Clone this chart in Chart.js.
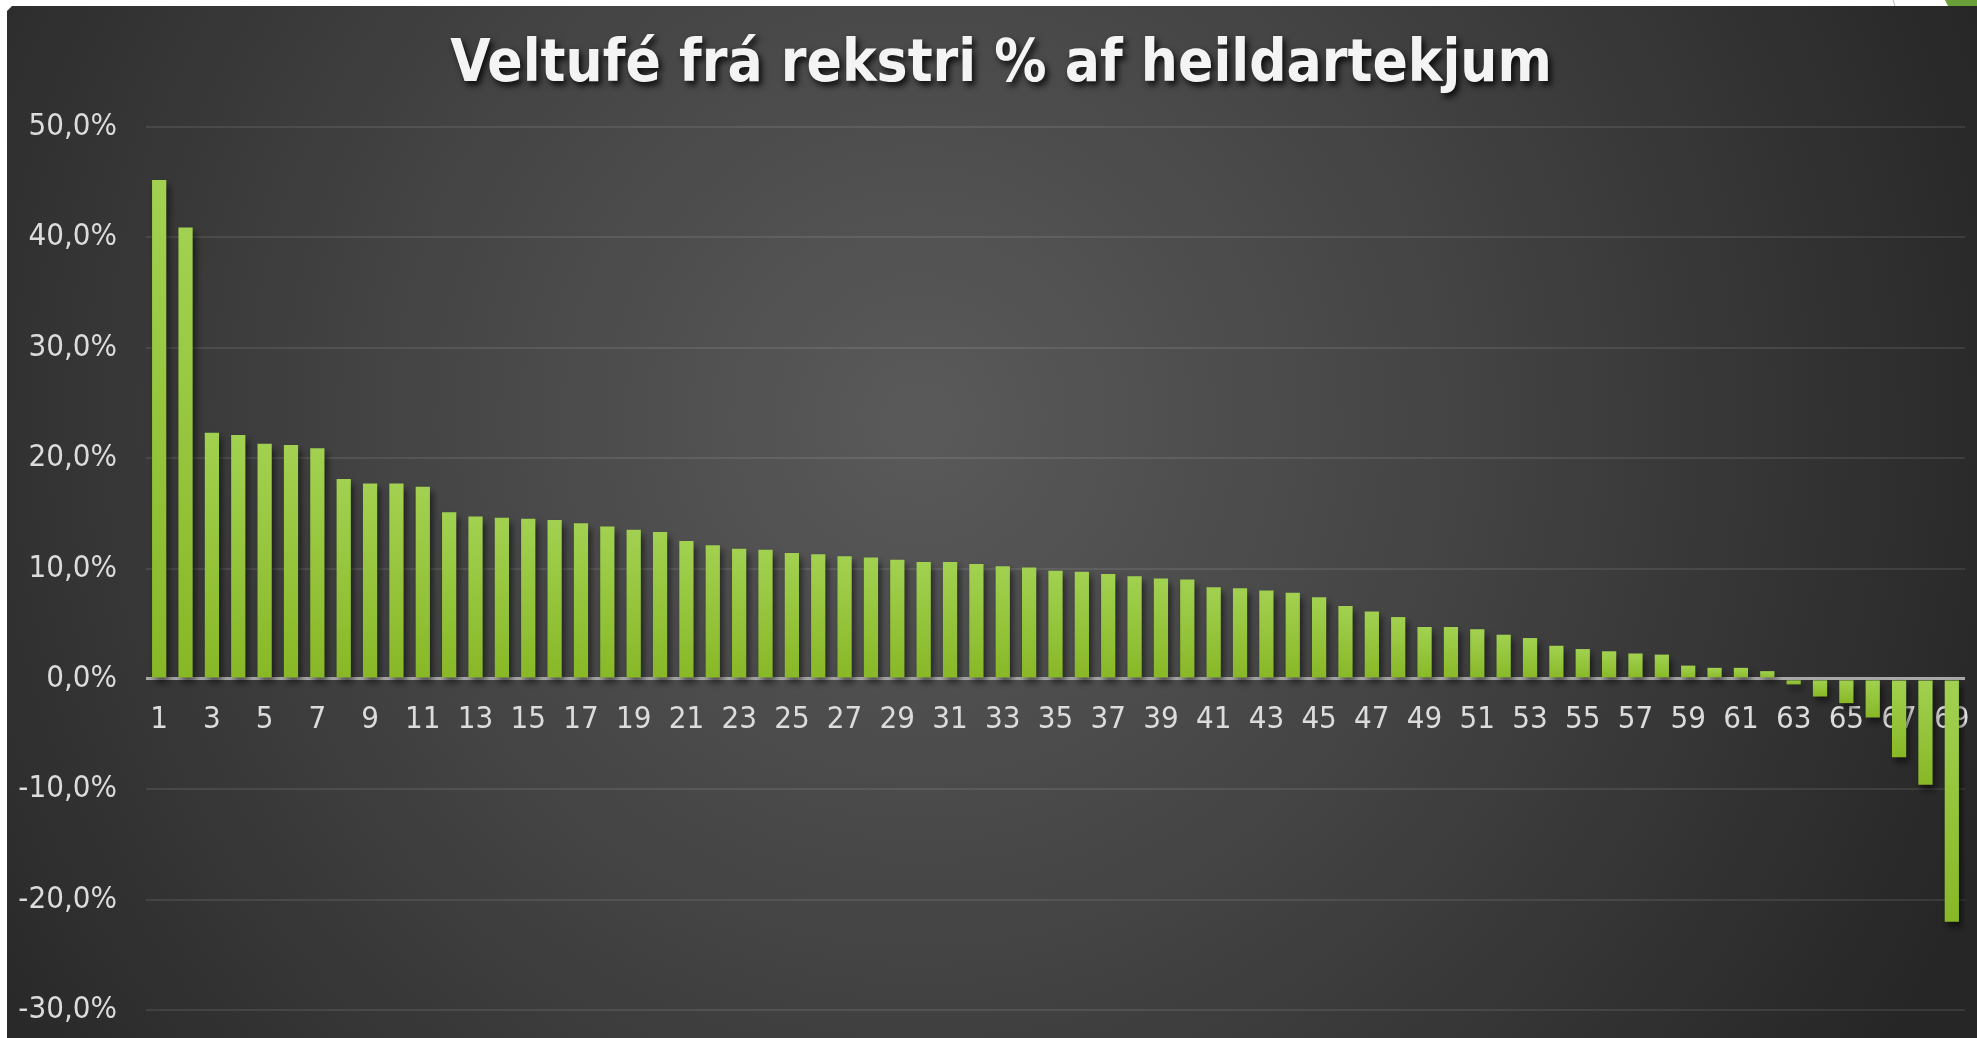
<!DOCTYPE html>
<html lang="is">
<head>
    <meta charset="UTF-8">
    <title>Veltufé frá rekstri % af heildartekjum</title>
    <script src="https://cdn.jsdelivr.net/npm/chart.js"></script>
    <style>
        html, body { margin: 0; padding: 0; background: #ffffff; overflow: hidden; }
        #graf { position: absolute; left: 0; top: 0; }
    </style>
</head>
<body>
    <canvas id="graf" width="1977" height="1038"></canvas>

<script>
    // sveitarfélög 1..69
    var flokkar = [];
    for (var n = 1; n <= 69; n++) flokkar.push(String(n));

    // veltufé frá rekstri í % af heildartekjum (lesið af myndinni)
    var veltufe = [
        45.2, 40.9, 22.3, 22.1, 21.3, 21.2, 20.9, 18.1, 17.7, 17.7,
        17.4, 15.1, 14.7, 14.6, 14.5, 14.4, 14.1, 13.8, 13.5, 13.3,
        12.5, 12.1, 11.8, 11.7, 11.4, 11.3, 11.1, 11.0, 10.8, 10.6,
        10.6, 10.4, 10.2, 10.1, 9.8, 9.7, 9.5, 9.3, 9.1, 9.0,
        8.3, 8.2, 8.0, 7.8, 7.4, 6.6, 6.1, 5.6, 4.7, 4.7,
        4.5, 4.0, 3.7, 3.0, 2.7, 2.5, 2.3, 2.2, 1.2, 1.0,
        1.0, 0.7, -0.5, -1.6, -2.2, -3.5, -7.1, -9.6, -22.0
    ];

    var asMin = -30;
    var asMax = 50;
    var asSkref = 10;

    var titill = 'Veltufé frá rekstri % af heildartekjum';
    var letur = '"DejaVu Sans Condensed", "DejaVu Sans", sans-serif';

    // dökkur bakgrunnur með ljósari miðju
    var bakgrunnur = {
        id: 'bakgrunnur',
        beforeDraw: function (chart) {
            var c = chart.ctx;
            c.save();
            c.fillStyle = '#ffffff';
            c.fillRect(0, 0, chart.width, chart.height);
            var g = c.createRadialGradient(920, 420, 20, 920, 420, 1150);
            g.addColorStop(0, '#595959');
            g.addColorStop(0.45, '#444444');
            g.addColorStop(1, '#262626');
            c.fillStyle = g;
            c.beginPath();
            c.moveTo(12, 6);
            c.lineTo(chart.width, 6);
            c.lineTo(chart.width, chart.height);
            c.lineTo(7, chart.height);
            c.lineTo(7, 11);
            c.closePath();
            c.fill();
            // smá grænt horn efst til hægri
            c.fillStyle = '#6aa03a';
            c.beginPath();
            c.moveTo(1945, 0);
            c.lineTo(1977, 0);
            c.lineTo(1977, 6);
            c.lineTo(1948, 6);
            c.closePath();
            c.fill();
            c.strokeStyle = '#bbbbbb';
            c.lineWidth = 1;
            c.beginPath();
            c.moveTo(1893, 0);
            c.lineTo(1895, 6);
            c.stroke();
            c.restore();
        },
        afterDraw: function (chart) {
            var c = chart.ctx;
            c.save();
            c.font = 'bold 58px ' + letur;
            c.textAlign = 'center';
            c.textBaseline = 'alphabetic';
            c.shadowColor = 'rgba(0,0,0,0.85)';
            c.shadowBlur = 6;
            c.shadowOffsetX = 3;
            c.shadowOffsetY = 4;
            c.fillStyle = '#f4f4f4';
            c.fillText(titill, 1001, 81);
            c.restore();
        }
    };

    // skuggi undir súlunum
    var skuggi = {
        id: 'skuggi',
        beforeDatasetsDraw: function (chart) {
            var c = chart.ctx;
            c.save();
            c.shadowColor = 'rgba(0,0,0,0.55)';
            c.shadowBlur = 7;
            c.shadowOffsetX = 3;
            c.shadowOffsetY = 5;
        },
        afterDatasetsDraw: function (chart) {
            chart.ctx.restore();
        }
    };

    function sululitur(context) {
        var chart = context.chart;
        var y = chart.scales.y;
        if (!y || typeof context.raw !== 'number') return '#92c235';
        var p0 = y.getPixelForValue(0);
        var p1 = y.getPixelForValue(context.raw);
        if (!isFinite(p0) || !isFinite(p1)) return '#92c235';
        var efst = Math.min(p0, p1);
        var nedst = Math.max(p0, p1);
        if (nedst - efst < 1) return '#92c235';
        var g = chart.ctx.createLinearGradient(0, efst, 0, nedst);
        g.addColorStop(0, '#a2d151');
        g.addColorStop(1, '#88b826');
        return g;
    }

    var gogn = {
        labels: flokkar,
        datasets: [{
            label: titill,
            data: veltufe,
            backgroundColor: sululitur,
            borderWidth: 0,
            barPercentage: 0.54,
            categoryPercentage: 1.0
        }]
    };

    var stillingar = {
        type: 'bar',
        data: gogn,
        plugins: [bakgrunnur, skuggi],
        options: {
            responsive: false,
            animation: false,
            layout: {
                padding: { top: 127, bottom: 28, left: 0, right: 12 }
            },
            plugins: {
                legend: { display: false },
                title: { display: false },
                tooltip: { enabled: false }
            },
            scales: {
                x: {
                    position: { y: 0 },
                    afterFit: function (scale) {
                        scale.paddingLeft = 0;
                        scale.paddingRight = 0;
                        scale.height = 0;
                    },
                    grid: { display: false },
                    border: { display: false },
                    ticks: {
                        color: '#dcdcdc',
                        font: { family: letur, size: 31 },
                        padding: 14,
                        autoSkip: false,
                        maxRotation: 0,
                        callback: function (val, i) {
                            return i % 2 === 0 ? flokkar[i] : '';
                        }
                    }
                },
                y: {
                    min: asMin,
                    max: asMax,
                    afterFit: function (scale) {
                        scale.width = 146;
                        scale.paddingTop = 0;
                        scale.paddingBottom = 0;
                    },
                    border: { display: false },
                    grid: {
                        drawTicks: false,
                        color: function (ctx) {
                            return ctx.tick && ctx.tick.value === 0 ? '#a9a9a9' : 'rgba(255,255,255,0.09)';
                        },
                        lineWidth: function (ctx) {
                            return ctx.tick && ctx.tick.value === 0 ? 3 : 2;
                        }
                    },
                    ticks: {
                        stepSize: asSkref,
                        color: '#dcdcdc',
                        padding: 29,
                        font: { family: letur, size: 31 },
                        callback: function (v) {
                            return v.toFixed(1).replace('.', ',') + '%';
                        }
                    }
                }
            }
        }
    };

    var grafid = new Chart(document.getElementById('graf'), stillingar);
</script>
</body>
</html>
